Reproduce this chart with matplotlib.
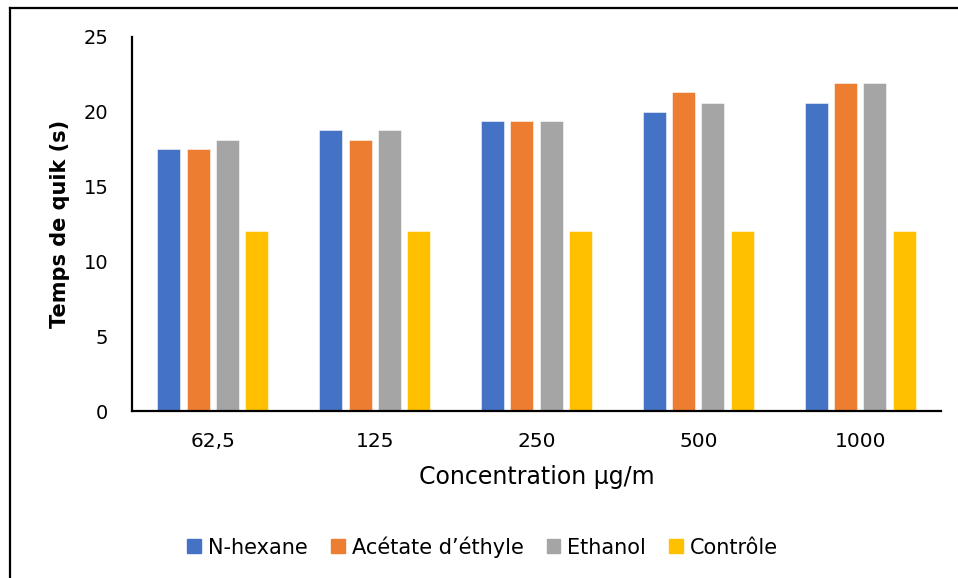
import matplotlib
matplotlib.use("Agg")
import matplotlib.pyplot as plt
from matplotlib.lines import Line2D
import numpy as np

plt.rcParams['font.family'] = ['DejaVu Sans']

concentrations = ["62,5", "125", "250", "500", "1000"]
n_hexane = [17.5, 18.8, 19.4, 20.0, 20.6]
acetate_ethyle = [17.5, 18.1, 19.4, 21.3, 21.9]
ethanol = [18.1, 18.8, 19.4, 20.6, 21.9]
controle = [12.0, 12.0, 12.0, 12.0, 12.0]

series_names = ["N-hexane", "Acétate d\u2019éthyle", "Ethanol", "Contrôle"]
series_values = [n_hexane, acetate_ethyle, ethanol, controle]
colors = ["#4472C4", "#ED7D31", "#A5A5A5", "#FFC000"]
y_ticks = [0, 5, 10, 15, 20, 25]

fig = plt.figure(figsize=(9.58, 5.78), dpi=100)
ax = fig.add_axes([0.1378, 0.2889, 0.8445, 0.6471])

x = np.arange(len(concentrations))
step = 0.181
width = 0.142
for i, (name, vals, c) in enumerate(zip(series_names, series_values, colors)):
    offset = (i - 1.5) * step
    ax.bar(x + offset, vals, width=width, color=c, label=name,
           edgecolor=(1, 1, 1, 0.6), linewidth=0.6, zorder=2)

ax.set_xlim(-0.5, len(concentrations) - 0.5)
ax.set_ylim(0, 25)
ax.set_yticks(y_ticks)
ax.set_yticklabels([str(t) for t in y_ticks], fontsize=14)
ax.set_xticks(x)
ax.set_xticklabels(concentrations, fontsize=14.5)
ax.tick_params(axis='both', length=0, colors='black')
ax.tick_params(axis='y', pad=17)
ax.tick_params(axis='x', pad=15)

for side in ['top', 'right']:
    ax.spines[side].set_visible(False)
for side in ['left', 'bottom']:
    ax.spines[side].set_linewidth(1.6)
    ax.spines[side].set_color('black')

ax.set_ylabel("Temps de quik (s)", fontsize=15, fontweight='bold', labelpad=10)
ax.set_xlabel("Concentration \u00b5g/m", fontsize=17, labelpad=10)

handles = [plt.Rectangle((0, 0), 1, 1, color=c) for c in colors]
fig.legend(handles, series_names, loc='center', bbox_to_anchor=(0.504, 0.054),
           ncol=4, frameon=False, fontsize=15, handlelength=0.65, handleheight=0.65,
           handletextpad=0.35, columnspacing=1.1)

# outer frame lines (top and left)
fig.add_artist(Line2D([9.5 / 958, 1.0], [1 - 7.5 / 578, 1 - 7.5 / 578],
                      transform=fig.transFigure, color='black', linewidth=1.6))
fig.add_artist(Line2D([9.5 / 958, 9.5 / 958], [0.0, 1 - 7.5 / 578],
                      transform=fig.transFigure, color='black', linewidth=1.6))

fig.savefig("out.png", dpi=100, facecolor='white')
